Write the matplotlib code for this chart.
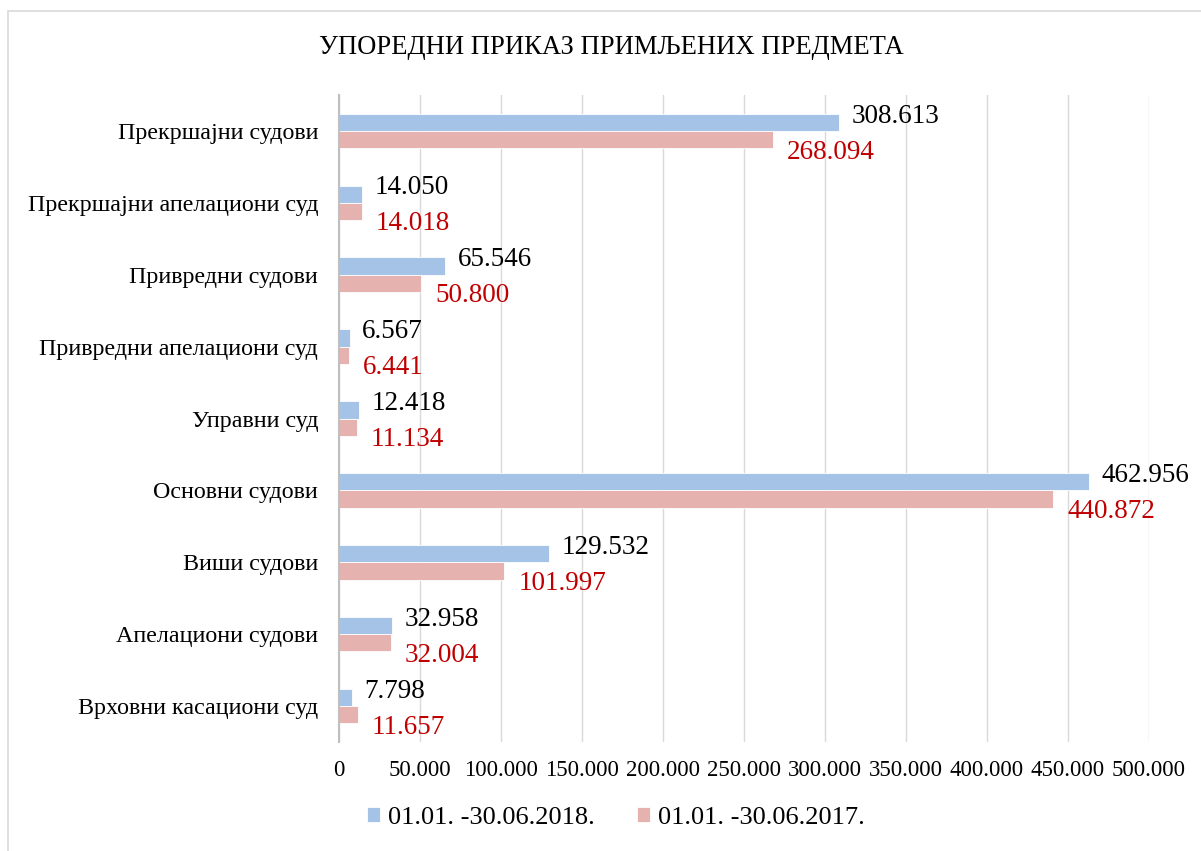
import matplotlib
matplotlib.use("Agg")
import matplotlib.pyplot as plt
from matplotlib.patches import Rectangle
from matplotlib.ticker import FuncFormatter
import numpy as np

plt.rcParams['font.family'] = ['Liberation Serif', 'DejaVu Serif']

title = "УПОРЕДНИ ПРИКАЗ ПРИМЉЕНИХ ПРЕДМЕТА"
categories = ["Прекршајни судови", "Прекршајни апелациони суд", "Привредни судови",
              "Привредни апелациони суд", "Управни суд", "Основни судови",
              "Виши судови", "Апелациони судови", "Врховни касациони суд"]
series_names = ["01.01. -30.06.2018.", "01.01. -30.06.2017."]
values_2018 = [308613, 14050, 65546, 6567, 12418, 462956, 129532, 32958, 7798]
values_2017 = [268094, 14018, 50800, 6441, 11134, 440872, 101997, 32004, 11657]
xticks = list(range(0, 500001, 50000))

blue = "#A5C3E6"
pink = "#E6B2AF"
red_txt = "#C00000"

W, H = 1201, 851
fig = plt.figure(figsize=(W / 100, H / 100), dpi=100)

# outer chart border
fig.patches.append(Rectangle((8 / W, -0.05), 1.2, 1 - 11 / H + 0.05, transform=fig.transFigure,
                             fill=False, edgecolor="#D9D9D9", linewidth=1.2))

ax = fig.add_axes([339 / W, 1 - 742 / H, (1149 - 339) / W, (742 - 95) / H])

y = np.arange(len(categories))
bh = 0.24
ax.barh(y - bh / 2, values_2018, height=bh, color=blue, edgecolor="white", linewidth=0.6,
        label=series_names[0], zorder=3)
ax.barh(y + bh / 2, values_2017, height=bh, color=pink, edgecolor="white", linewidth=0.6,
        label=series_names[1], zorder=3)

def fmt(v):
    return f"{int(v):,}".replace(",", ".")

for yi, v in zip(y, values_2018):
    ax.annotate(fmt(v), (v, yi - bh / 2), xytext=(9, 4.5), textcoords="offset points",
                ha="left", va="center", fontsize=19.5, color="black")
for yi, v in zip(y, values_2017):
    ax.annotate(fmt(v), (v, yi + bh / 2), xytext=(10, -9), textcoords="offset points",
                ha="left", va="center", fontsize=19.5, color=red_txt)

ax.set_xlim(0, 500000)
ax.set_ylim(len(categories) - 0.5, -0.5)
ax.set_xticks(xticks)
ax.xaxis.set_major_formatter(FuncFormatter(lambda v, p: fmt(v)))
ax.set_yticks(y)
ax.set_yticklabels(categories, fontsize=17.3)
ax.tick_params(axis="x", labelsize=16.5, length=0, pad=13)
ax.tick_params(axis="y", length=0, pad=15)
ax.grid(axis="x", color="#D9D9D9", linewidth=1, zorder=0)
for s in ["top", "right", "bottom"]:
    ax.spines[s].set_visible(False)
ax.spines["left"].set_color("#BFBFBF")
ax.spines["left"].set_linewidth(1.5)
ax.spines["left"].set_zorder(4)

fig.text(611 / W, 1 - 48 / H, title, ha="center", va="center", fontsize=19.2)

handles, labels = ax.get_legend_handles_labels()
fig.legend(handles, labels, loc="center", bbox_to_anchor=(616 / W, 1 - 818 / H), ncol=2,
           frameon=False, fontsize=19, handlelength=0.5, handleheight=0.5,
           handletextpad=0.3, columnspacing=1.6)

fig.savefig("out.png", dpi=100)
